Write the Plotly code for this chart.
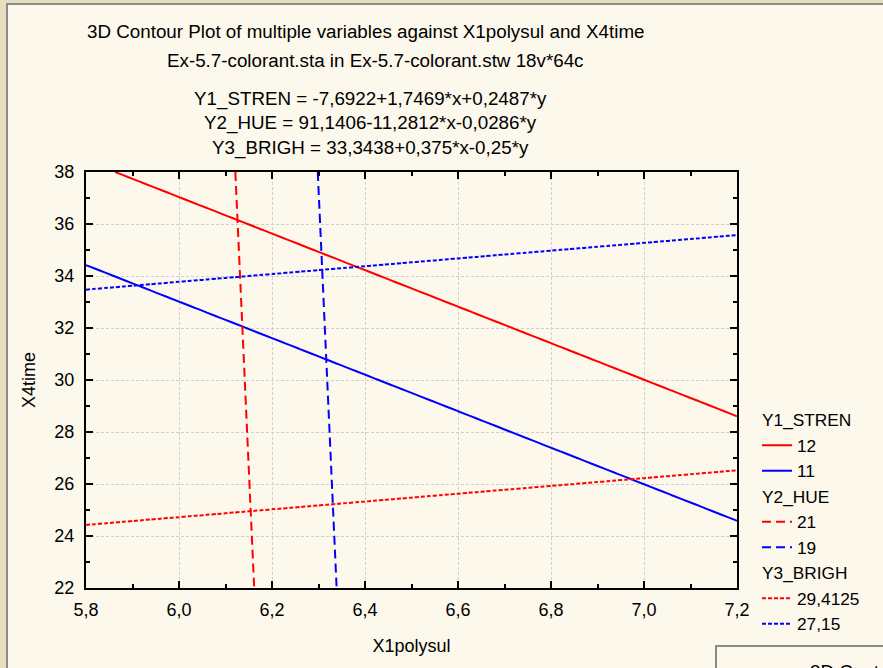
import numpy as np
import plotly.graph_objects as go

# Fitted linear models: Y = b0 + b1*X1polysul + b2*X4time
model_names = ["Y1_STREN", "Y2_HUE", "Y3_BRIGH"]
y1_coef = [-7.6922, 1.7469, 0.2487]
y2_coef = [91.1406, -11.2812, -0.0286]
y3_coef = [33.3438, 0.375, -0.25]

# Contour levels drawn for each response (red level first, blue second)
y1_levels = [12, 11]
y2_levels = [21, 19]
y3_levels = [29.4125, 27.15]
level_labels = [["12", "11"], ["21", "19"], ["29,4125", "27,15"]]

equation_texts = [
    "Y1_STREN = -7,6922+1,7469*x+0,2487*y",
    "Y2_HUE = 91,1406-11,2812*x-0,0286*y",
    "Y3_BRIGH = 33,3438+0,375*x-0,25*y",
]

x_range = [5.8, 7.2]
y_range = [22, 38]

xg = np.linspace(x_range[0], x_range[1], 71)
yg = np.linspace(y_range[0], y_range[1], 81)
XX, YY = np.meshgrid(xg, yg)

RED = "#ff0000"
BLUE = "#0000ff"
dashes = ["solid", "9px,5px", "4px,2px"]

font_family = "Liberation Sans, Arial, sans-serif"
FS = 18          # axis text
FS_TITLE = 18.8  # heading lines
FS_LEG = 17.3    # legend

fig = go.Figure()

coefs = [y1_coef, y2_coef, y3_coef]
levels = [y1_levels, y2_levels, y3_levels]
for name, c, lv, labels, dash in zip(model_names, coefs, levels, level_labels, dashes):
    z = c[0] + c[1] * XX + c[2] * YY
    for level, lab, col in zip(lv, labels, [RED, BLUE]):
        fig.add_trace(go.Contour(
            x=xg, y=yg, z=z,
            contours=dict(coloring="none", start=level, end=level, size=1,
                          showlabels=False),
            line=dict(color=col, width=2, dash=dash, smoothing=0),
            showscale=False, showlegend=False, hoverinfo="skip",
        ))
        # legend entry
        fig.add_trace(go.Scatter(
            x=[None], y=[None], mode="lines",
            line=dict(color=col, width=2, dash=dash),
            name=lab, legendgroup=name,
            legendgrouptitle=dict(text=name, font=dict(size=FS_LEG, color="black")),
        ))

ann = []
ann.append(dict(text="3D Contour Plot of multiple variables against X1polysul and X4time",
                x=365, y=32))
ann.append(dict(text="Ex-5.7-colorant.sta in Ex-5.7-colorant.stw 18v*64c", x=375, y=60))
for i, t in enumerate(equation_texts):
    ann.append(dict(text=t, x=370, y=99 + 24.5 * i))

W, H = 883, 668
L, R, T, B = 86, 737, 172, 588
annotations = []
for a in ann:
    annotations.append(dict(
        text=a["text"], xref="paper", yref="paper",
        x=(a["x"] - L) / (R - L), y=1 - (a["y"] - T) / (B - T),
        xanchor="center", yanchor="middle", showarrow=False,
        font=dict(size=FS_TITLE, color="black", family=font_family),
    ))
# heading of the neighbouring panel
annotations.append(dict(
    text="3D Contour Plot", xref="paper", yref="paper",
    x=(808 - L) / (R - L), y=1 - (659 - T) / (B - T),
    xanchor="left", yanchor="top", showarrow=False,
    font=dict(size=FS_TITLE, color="black", family=font_family),
))

shapes = [
    # main panel
    dict(type="rect", xref="paper", yref="paper",
         x0=(7 - L) / (R - L), x1=(W + 10 - L) / (R - L),
         y0=1 - (H + 10 - T) / (B - T), y1=1 - (4 - T) / (B - T),
         fillcolor="#fdf8ec", line=dict(color="#8a8a8a", width=2), layer="below"),
    # neighbouring panel
    dict(type="rect", xref="paper", yref="paper",
         x0=(716 - L) / (R - L), x1=(W + 10 - L) / (R - L),
         y0=1 - (H + 10 - T) / (B - T), y1=1 - (646 - T) / (B - T),
         fillcolor="#fdf8ec", line=dict(color="#8a8a8a", width=2), layer="below"),
]

axis_common = dict(
    showline=True, linecolor="black", linewidth=2, mirror="allticks",
    ticks="inside", ticklen=7, tickwidth=2, tickcolor="black",
    showgrid=True, gridcolor="#cfcfcf", griddash="3px,2px", gridwidth=1,
    zeroline=False, tickfont=dict(size=FS, color="black", family=font_family),
)

fig.update_layout(
    width=W, height=H, autosize=False,
    margin=dict(l=L, r=W - R, t=T, b=H - B, pad=0),
    paper_bgcolor="#e9ddbf", plot_bgcolor="white",
    font=dict(family=font_family, color="black", size=FS),
    separators=",.",
    xaxis=dict(range=x_range, dtick=0.2, tick0=5.8, tickformat=".1f",
               minor=dict(ticks="inside", ticklen=4, tickwidth=2, tickcolor="black",
                          dtick=0.1, showgrid=False),
               title=dict(text="X1polysul", font=dict(size=FS), standoff=21),
               ticklabelstandoff=4,
               **axis_common),
    yaxis=dict(range=y_range, dtick=2, tick0=22,
               minor=dict(ticks="inside", ticklen=4, tickwidth=2, tickcolor="black",
                          dtick=1, showgrid=False),
               title=dict(text="X4time", font=dict(size=FS), standoff=14),
               ticklabelstandoff=6,
               **axis_common),
    legend=dict(x=(757 - L) / (R - L), xanchor="left", y=1 - (402 - T) / (B - T),
                yanchor="top",
                bgcolor="rgba(0,0,0,0)", font=dict(size=FS_LEG, color="black"),
                tracegroupgap=0, groupclick="toggleitem"),
    annotations=annotations, shapes=shapes,
)

fig.write_html("out.html")
